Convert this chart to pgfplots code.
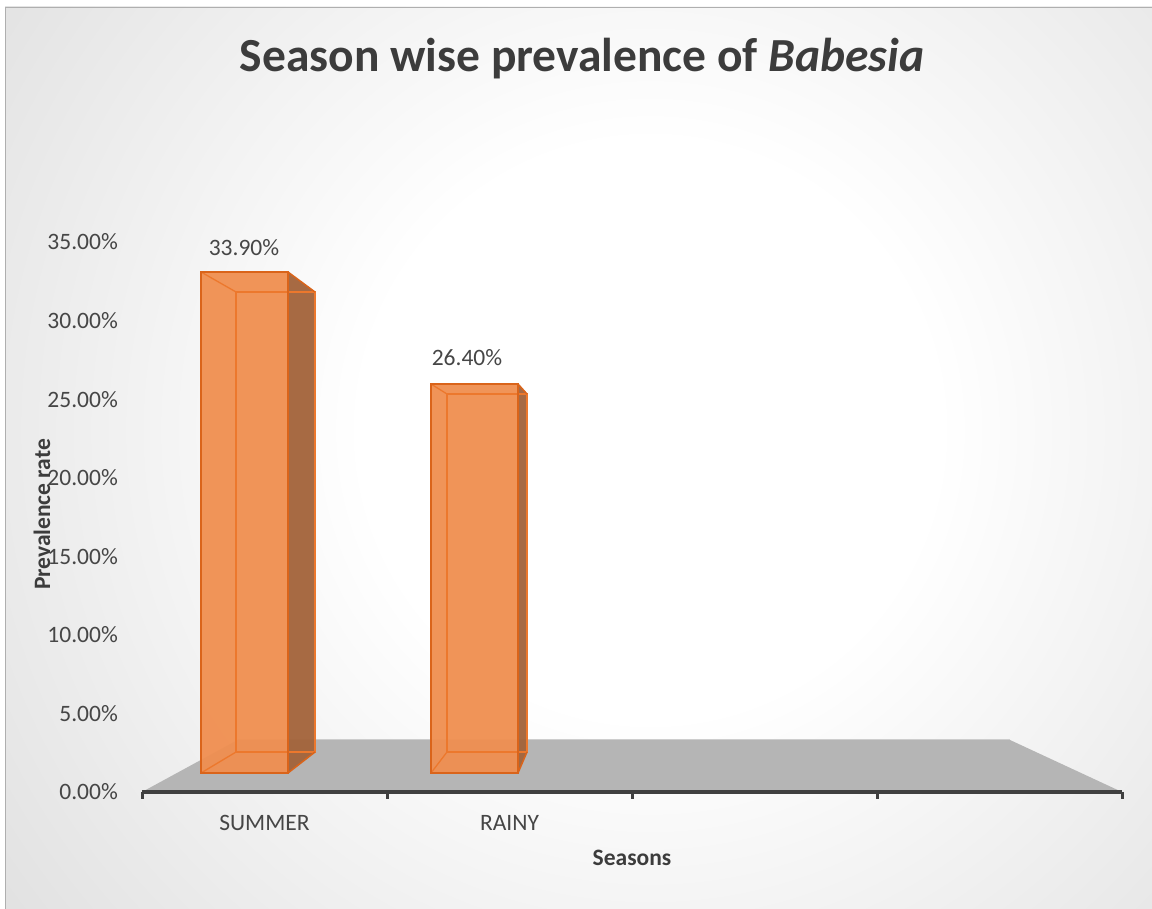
\documentclass[border=0pt]{standalone}
\usepackage{fontspec}
\setmainfont{Carlito}
\usepackage{pgfplots}
\pgfplotsset{compat=1.18}
\definecolor{bggray}{RGB}{180,180,180}
\definecolor{bordergray}{RGB}{175,175,175}
\definecolor{axisgray}{RGB}{64,64,64}
\definecolor{textgray}{RGB}{60,60,60}
\definecolor{ticktext}{RGB}{70,70,70}
\definecolor{floorgray}{RGB}{181,181,181}
\definecolor{floorhi}{RGB}{205,205,205}
\definecolor{barfill}{RGB}{240,143,80}
\definecolor{baredge}{RGB}{218,100,26}
\definecolor{backedge}{RGB}{236,120,45}
\definecolor{sidefill}{RGB}{163,99,58}
\pgfdeclareradialshading{bgshade}{\pgfpoint{0bp}{0bp}}{color(0bp)=(white); color(9bp)=(white); color(50bp)=(bggray)}
\begin{document}
\begin{tikzpicture}
\useasboundingbox (0,0) rectangle (1152bp,909bp);
\fill[white] (0,0) rectangle (1152bp,909bp);
\begin{scope}
\clip (5bp,0bp) rectangle (1152bp,902bp);
\shade[shading=bgshade] (-150bp,-321bp) rectangle (1450bp,1279bp);
\end{scope}
\draw[bordergray, line width=1bp] (5.5bp,0bp) -- (5.5bp,901.5bp) -- (1152bp,901.5bp);
\begin{axis}[
  at={(142bp,117bp)}, anchor=south west,
  scale only axis, width=980bp, height=550bp,
  xmin=0, xmax=4, ymin=0, ymax=35,
  clip=false,
  axis x line*=bottom, axis y line*=left,
  axis line style={draw=none},
  xtick={0.5,1.5}, xticklabels={SUMMER,RAINY},
  major tick length=0pt,
  ytick={0,5,10,15,20,25,30,35},
  /pgf/number format/assume math mode=true,
  yticklabel={\pgfmathprintnumber[fixed,fixed zerofill,precision=2]{\tick}\%},
  xticklabel style={anchor=north, inner sep=0pt, yshift=-23bp, font=\fontsize{23.5bp}{27bp}\selectfont, text=ticktext},
  yticklabel style={anchor=east, inner sep=0pt, xshift=-24bp, font=\fontsize{23.5bp}{27bp}\selectfont, text=ticktext},
  xlabel={Seasons},
  xlabel style={at={(axis description cs:0.5,-0.12)}, anchor=center, font=\bfseries\fontsize{23.5bp}{27bp}\selectfont, text=textgray},
  ylabel={Prevalence rate},
  ylabel style={at={(axis description cs:-0.102,0.5045)}, anchor=center, font=\bfseries\fontsize{23.5bp}{27bp}\selectfont, text=textgray},
  title={Season wise prevalence of \textit{Babesia}},
  title style={at={(axis description cs:0.449,1.322)}, anchor=center, font=\bfseries\fontsize{47.5bp}{52bp}\selectfont, text=textgray},
]
% floor
\addplot[fill=floorgray, draw=none] coordinates {(0,0) (0.390,3.309) (3.543,3.309) (4,0)} -- cycle;
\addplot[draw=floorhi, line width=1bp] coordinates {(0.390,3.309) (3.543,3.309)};

% category axis line and boundary ticks
\draw[axisgray, line width=3.5bp] (axis cs:0,0) -- (axis cs:4,0);
\pgfplotsinvokeforeach{0,1,2,3,4}{
  \draw[axisgray, line width=3bp] (axis cs:#1,0) -- ++(0bp,-7bp);
}

% SUMMER bar (33.90%)
\addplot[fill=barfill, fill opacity=0.95, draw=none] coordinates {(0.2408,1.209) (0.2408,33.091) (0.5959,33.091) (0.5959,1.209)} -- cycle;
\addplot[fill=sidefill, fill opacity=0.95, draw=none] coordinates {(0.5959,1.209) (0.5959,33.091) (0.7061,31.818) (0.7061,2.545)} -- cycle;
\addplot[draw=backedge, line width=1.3bp] coordinates {(0.3837,2.545) (0.3837,31.818) (0.7061,31.818) (0.7061,2.545)} -- cycle;
\addplot[draw=backedge, line width=1.3bp] coordinates {(0.2408,1.209) (0.3837,2.545)};
\addplot[draw=backedge, line width=1.3bp] coordinates {(0.2408,33.091) (0.3837,31.818)};
\addplot[draw=baredge, line width=1.5bp] coordinates {(0.5959,1.209) (0.7061,2.545)};
\addplot[draw=baredge, line width=1.5bp] coordinates {(0.5959,33.091) (0.7061,31.818)};
\addplot[draw=baredge, line width=2bp] coordinates {(0.2408,1.209) (0.2408,33.091) (0.5959,33.091) (0.5959,1.209)} -- cycle;

% RAINY bar (26.40%)
\addplot[fill=barfill, fill opacity=0.95, draw=none] coordinates {(1.1796,1.209) (1.1796,25.964) (1.5347,25.964) (1.5347,1.209)} -- cycle;
\addplot[fill=sidefill, fill opacity=0.95, draw=none] coordinates {(1.5347,1.209) (1.5347,25.964) (1.5714,25.327) (1.5714,2.545)} -- cycle;
\addplot[draw=backedge, line width=1.3bp] coordinates {(1.2449,2.545) (1.2449,25.327) (1.5714,25.327) (1.5714,2.545)} -- cycle;
\addplot[draw=backedge, line width=1.3bp] coordinates {(1.1796,1.209) (1.2449,2.545)};
\addplot[draw=backedge, line width=1.3bp] coordinates {(1.1796,25.964) (1.2449,25.327)};
\addplot[draw=baredge, line width=1.5bp] coordinates {(1.5347,1.209) (1.5714,2.545)};
\addplot[draw=baredge, line width=1.5bp] coordinates {(1.5347,25.964) (1.5714,25.327)};
\addplot[draw=baredge, line width=2bp] coordinates {(1.1796,1.209) (1.1796,25.964) (1.5347,25.964) (1.5347,1.209)} -- cycle;

% data labels
\addplot[draw=none, nodes near coords, point meta=explicit symbolic,
  every node near coord/.append style={anchor=center, inner sep=0pt, font=\fontsize{23.5bp}{27bp}\selectfont, text=ticktext}]
  coordinates {(0.4163,34.65)[33.90\%] (1.3265,27.64)[26.40\%]};
\end{axis}
\end{tikzpicture}
\end{document}
